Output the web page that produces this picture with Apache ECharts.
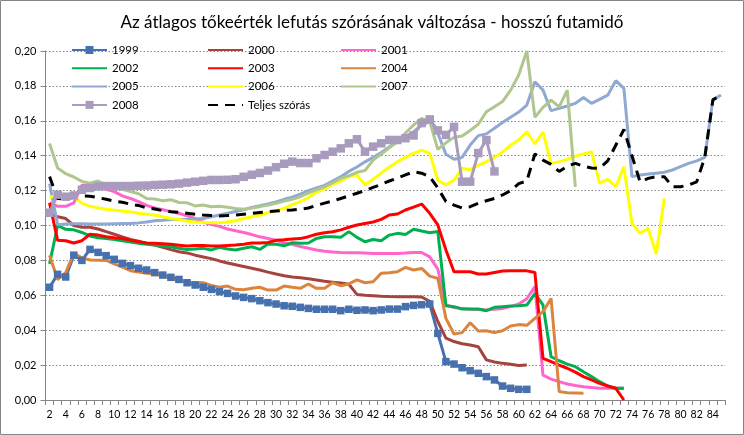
<!DOCTYPE html>
<html>
<head>
<meta charset="utf-8">
<script src="https://cdn.jsdelivr.net/npm/echarts@6/dist/echarts.min.js"></script>
<style>html,body{margin:0;padding:0;background:#fff}#c{width:744px;height:435px}</style>
</head>
<body>
<div id="c"></div>
<script>
const categories = ['2','3','4','5','6','7','8','9','10','11','12','13','14','15','16','17','18','19','20','21','22','23','24','25','26','27','28','29','30','31','32','33','34','35','36','37','38','39','40','41','42','43','44','45','46','47','48','49','50','51','52','53','54','55','56','57','58','59','60','61','62','63','64','65','66','67','68','69','70','71','72','73','74','75','76','77','78','79','80','81','82','83','84','85'];

const s1999 = [0.0646,0.072,0.0705,0.083,0.080,0.0863,0.0846,0.0827,0.0806,0.0783,0.077,0.0755,0.0745,0.073,0.0716,0.0703,0.0691,0.0672,0.0659,0.0646,0.0634,0.0621,0.0611,0.0596,0.0588,0.0581,0.0569,0.0558,0.055,0.054,0.0537,0.0531,0.0525,0.052,0.052,0.052,0.0512,0.052,0.0514,0.0516,0.0512,0.0516,0.0521,0.0521,0.0535,0.0542,0.0546,0.055,0.0382,0.022,0.0206,0.0185,0.0168,0.0153,0.0134,0.0115,0.008,0.0067,0.0061,0.0061];

const s2000 = [0.107,0.105,0.104,0.100,0.099,0.099,0.098,0.0965,0.095,0.0935,0.092,0.091,0.0897,0.0888,0.0875,0.0862,0.085,0.0843,0.083,0.082,0.081,0.0797,0.0785,0.0775,0.0765,0.0755,0.0745,0.0733,0.0722,0.0712,0.0705,0.070,0.0695,0.0688,0.068,0.0675,0.067,0.0663,0.0605,0.060,0.0598,0.0595,0.0593,0.0592,0.0592,0.0592,0.059,0.0565,0.045,0.0355,0.0335,0.0322,0.0315,0.0305,0.023,0.0218,0.021,0.0205,0.0198,0.020];

const s2001 = [0.113,0.111,0.111,0.113,0.123,0.123,0.122,0.1207,0.1194,0.117,0.1155,0.1137,0.1115,0.110,0.109,0.108,0.107,0.1055,0.104,0.102,0.1005,0.0995,0.098,0.097,0.096,0.0948,0.0935,0.0926,0.0915,0.090,0.0892,0.088,0.087,0.086,0.0853,0.0848,0.0845,0.0844,0.0844,0.0842,0.084,0.084,0.084,0.084,0.0842,0.0845,0.0845,0.082,0.075,0.0545,0.053,0.0525,0.052,0.0518,0.0516,0.052,0.0525,0.0535,0.055,0.058,0.065,0.0143,0.012,0.0105,0.0092,0.0083,0.0076,0.0072,0.0068,0.0067,0.0067,0.0067];

const s2002 = [0.078,0.100,0.0978,0.0975,0.096,0.094,0.093,0.0926,0.092,0.0913,0.0905,0.0898,0.0893,0.0888,0.0883,0.0878,0.087,0.0863,0.0866,0.0869,0.086,0.0875,0.0865,0.086,0.087,0.0878,0.0863,0.0894,0.0892,0.0884,0.0901,0.0898,0.090,0.0926,0.0936,0.0935,0.0932,0.0965,0.0932,0.0907,0.092,0.0913,0.0945,0.0955,0.0949,0.0978,0.0968,0.0959,0.0965,0.054,0.0535,0.0521,0.0521,0.0521,0.0512,0.0531,0.0535,0.0538,0.054,0.0544,0.061,0.0545,0.0248,0.0225,0.0206,0.0191,0.0162,0.0134,0.0105,0.008,0.0067,0.0067];

const s2003 = [0.113,0.0915,0.0913,0.090,0.0913,0.095,0.0945,0.0936,0.093,0.0926,0.0916,0.0907,0.090,0.0898,0.0895,0.0892,0.0887,0.0882,0.0885,0.0885,0.0882,0.0882,0.0885,0.0888,0.0893,0.090,0.090,0.0903,0.0915,0.0918,0.0922,0.0925,0.0936,0.095,0.0958,0.0964,0.0975,0.099,0.1003,0.1012,0.102,0.1035,0.106,0.1066,0.1089,0.1105,0.1123,0.107,0.1003,0.086,0.0735,0.0735,0.0735,0.0722,0.0722,0.0731,0.0739,0.074,0.074,0.074,0.0731,0.0239,0.022,0.020,0.0182,0.016,0.0134,0.0115,0.0095,0.008,0.0067,0.0];

const s2004 = [0.083,0.069,0.073,0.084,0.0815,0.0802,0.0801,0.080,0.078,0.0762,0.0741,0.0733,0.0726,0.0722,0.0712,0.0697,0.0682,0.0674,0.0673,0.0672,0.0657,0.0646,0.0653,0.0634,0.0632,0.064,0.0646,0.063,0.063,0.0653,0.0646,0.064,0.0665,0.064,0.064,0.0672,0.0655,0.0665,0.0688,0.0672,0.0678,0.0726,0.0729,0.0735,0.076,0.0745,0.0754,0.071,0.0697,0.0468,0.0378,0.0386,0.0443,0.0395,0.0397,0.0386,0.0397,0.0424,0.0432,0.0428,0.0468,0.0506,0.0582,0.0048,0.0042,0.004,0.0038];

const s2005 = [0.124,0.1005,0.1008,0.101,0.101,0.1008,0.1008,0.1008,0.101,0.1012,0.1012,0.1015,0.102,0.1027,0.103,0.1035,0.1035,0.1035,0.1037,0.104,0.105,0.106,0.107,0.108,0.109,0.1104,0.1113,0.1123,0.1135,0.115,0.1162,0.118,0.120,0.1215,0.123,0.1255,0.128,0.131,0.1335,0.1365,0.139,0.1418,0.145,0.1485,0.151,0.1537,0.1576,0.1595,0.1528,0.1408,0.138,0.139,0.1461,0.1515,0.1525,0.1557,0.159,0.162,0.165,0.169,0.1824,0.1776,0.1658,0.1671,0.1685,0.170,0.1734,0.170,0.1723,0.1747,0.183,0.1786,0.128,0.1289,0.1295,0.130,0.1305,0.1318,0.1337,0.1356,0.137,0.139,0.172,0.1748];

const s2006 = [0.116,0.1177,0.1165,0.1165,0.1127,0.1111,0.110,0.1093,0.1088,0.1083,0.1078,0.107,0.1065,0.106,0.105,0.104,0.1035,0.1025,0.102,0.1018,0.1016,0.1016,0.102,0.1027,0.104,0.105,0.106,0.1073,0.1085,0.1098,0.112,0.1137,0.116,0.119,0.121,0.1235,0.1255,0.128,0.129,0.1232,0.1265,0.130,0.1335,0.1366,0.139,0.1413,0.1432,0.1413,0.126,0.1232,0.126,0.1328,0.132,0.1345,0.1366,0.139,0.142,0.1461,0.149,0.1537,0.1467,0.1535,0.1356,0.1366,0.1379,0.1398,0.141,0.1423,0.1242,0.1264,0.1222,0.1337,0.1012,0.0955,0.0984,0.0837,0.1156];

const s2007 = [0.147,0.133,0.1297,0.1278,0.1253,0.1242,0.1255,0.1232,0.122,0.1208,0.1195,0.1182,0.1155,0.1152,0.1142,0.1148,0.1132,0.113,0.1112,0.1117,0.1108,0.111,0.1104,0.1098,0.1093,0.110,0.1108,0.1118,0.1127,0.114,0.115,0.1165,0.1185,0.1205,0.1222,0.1245,0.127,0.1285,0.1305,0.1315,0.1375,0.141,0.1445,0.148,0.153,0.1576,0.1614,0.1595,0.1436,0.1474,0.1505,0.1513,0.1545,0.158,0.1652,0.168,0.171,0.1776,0.1862,0.200,0.162,0.1677,0.1719,0.168,0.1776,0.1222];

const s2008 = [0.1073,0.1177,0.1165,0.1172,0.1205,0.1215,0.1224,0.1226,0.1226,0.1226,0.1226,0.1228,0.1229,0.1232,0.1234,0.1236,0.124,0.1246,0.1251,0.1256,0.1261,0.1261,0.1262,0.1265,0.1279,0.1291,0.1301,0.1315,0.1334,0.1354,0.1366,0.1358,0.1358,0.1385,0.1404,0.1423,0.1442,0.1471,0.1494,0.1423,0.1452,0.1471,0.149,0.149,0.150,0.1516,0.1587,0.1608,0.1545,0.1519,0.1565,0.1251,0.1251,0.1415,0.149,0.131];

const sTeljes = [0.128,0.1155,0.115,0.1165,0.117,0.1168,0.116,0.115,0.114,0.1133,0.1122,0.1115,0.110,0.1095,0.1085,0.1079,0.1075,0.107,0.1065,0.106,0.1057,0.1055,0.1057,0.106,0.1065,0.107,0.1075,0.1079,0.1083,0.1087,0.1089,0.1094,0.110,0.1115,0.1128,0.114,0.1155,0.117,0.1185,0.120,0.1218,0.1236,0.1255,0.1272,0.129,0.1308,0.130,0.128,0.1215,0.1137,0.1117,0.110,0.1108,0.1127,0.1142,0.1155,0.1175,0.120,0.124,0.1255,0.141,0.1375,0.135,0.131,0.134,0.1356,0.134,0.133,0.1328,0.137,0.146,0.155,0.140,0.125,0.127,0.128,0.128,0.1222,0.1222,0.1232,0.125,0.139,0.172,0.1748];

const seriesNames = ['1999','2000','2001','2002','2003','2004','2005','2006','2007','2008','Teljes szórás'];
const seriesData = [s1999,s2000,s2001,s2002,s2003,s2004,s2005,s2006,s2007,s2008,sTeljes];
const seriesColors = ['#4671AE','#A5443F','#FF66CC','#00B050','#FF0000','#DB843D','#90A9D2','#FFFF00','#AFC78F','#A99BBD','#000000'];
const markerSeries = ['1999','2008'];
const yTicks = [0,0.02,0.04,0.06,0.08,0.10,0.12,0.14,0.16,0.18,0.20];

const FONT = 'Lato';
const series = seriesNames.map((name, i) => {
  const hasMarker = markerSeries.indexOf(name) >= 0;
  const s = {
    name: name, type: 'line', data: seriesData[i], smooth: false,
    symbol: hasMarker ? 'rect' : 'none', showSymbol: hasMarker, showAllSymbol: true,
    symbolSize: name === '1999' ? 7.5 : 8.5,
    lineStyle: {color: seriesColors[i], width: 3},
    itemStyle: {color: seriesColors[i]},
    emphasis: {disabled: true}, animation: false
  };
  if (name === 'Teljes szórás') {
    s.lineStyle.type = [10, 7];
  }
  return s;
});

function legendItem(name) {
  return markerSeries.indexOf(name) >= 0 ? {name: name} : {name: name, itemStyle: {opacity: 0}};
}
const legendCommon = {orient: 'vertical', top: 43, itemGap: 4.3, itemWidth: 35, itemHeight: 10, padding: 0,
  textStyle: {fontSize: 11.5, lineHeight: 14, fontFamily: FONT, color: '#000'}, selectedMode: false};

const chart = echarts.init(document.getElementById('c'), null, {renderer: 'canvas'});
chart.setOption({
  animation: false,
  backgroundColor: '#fff',
  title: {text: 'Az átlagos tőkeérték lefutás szórásának változása - hosszú futamidő', left: 'center', top: 9,
    textStyle: {fontSize: 17, fontWeight: 'normal', fontFamily: FONT, color: '#000'}},
  legend: [
    Object.assign({}, legendCommon, {left: 71, data: ['1999','2002','2005','2008'].map(legendItem)}),
    Object.assign({}, legendCommon, {left: 207, data: ['2000','2003','2006','Teljes szórás'].map(legendItem)}),
    Object.assign({}, legendCommon, {left: 340, data: ['2001','2004','2007'].map(legendItem)})
  ],
  grid: {left: 45.5, right: 19, top: 51, bottom: 35, containLabel: false},
  xAxis: {
    type: 'category', data: categories, boundaryGap: true,
    axisLine: {lineStyle: {color: '#868686', width: 1}},
    axisTick: {show: true, interval: 0, length: 5, lineStyle: {color: '#868686'}},
    axisLabel: {interval: 1, fontSize: 10.5, fontFamily: FONT, color: '#000', margin: 9}
  },
  yAxis: {
    type: 'value', min: 0, max: 0.2, interval: 0.02,
    axisLine: {show: true, lineStyle: {color: '#868686', width: 1}},
    axisTick: {show: true, length: 5, lineStyle: {color: '#868686'}},
    splitLine: {show: true, lineStyle: {color: '#868686', type: [1.5, 2], width: 1}},
    axisLabel: {fontSize: 11, fontFamily: FONT, color: '#000', margin: 9,
      formatter: v => { const t = yTicks.find(x => Math.abs(x - v) < 1e-9); return (t !== undefined ? t : v).toFixed(2).replace('.', ','); }}
  },
  graphic: [{type: 'rect', shape: {x: 0.5, y: 0.5, width: 743, height: 434}, style: {fill: 'none', stroke: '#868686', lineWidth: 1}, z: 100}],
  series: series
});
</script>
</body>
</html>
